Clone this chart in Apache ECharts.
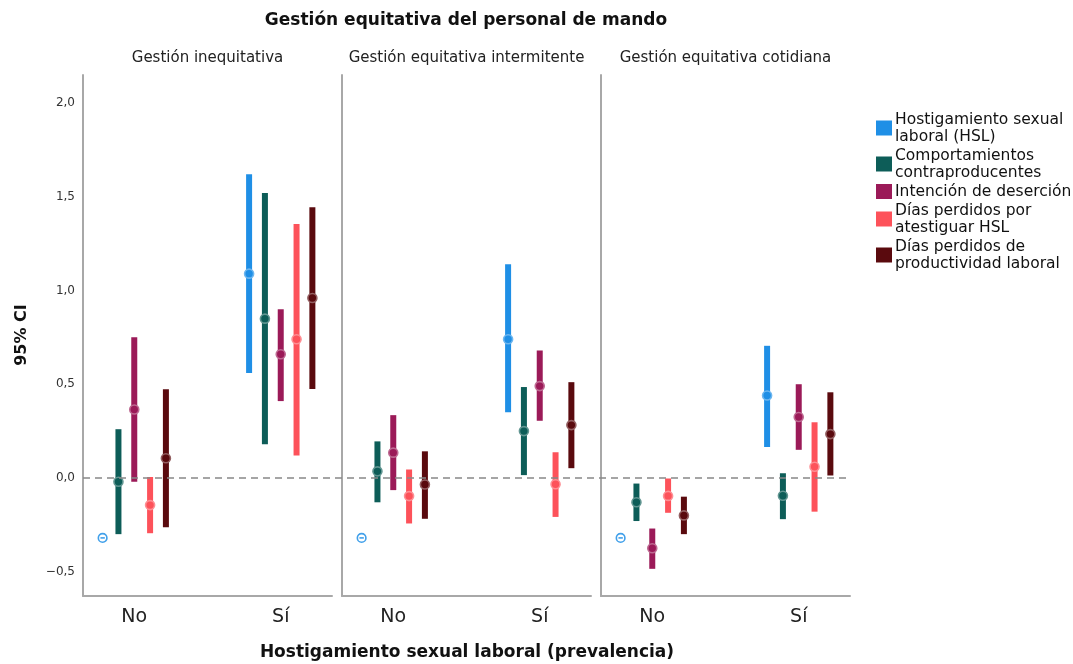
<!DOCTYPE html>
<html>
<head>
<meta charset="utf-8">
<script src="https://cdn.jsdelivr.net/npm/echarts@6/dist/echarts.min.js"></script>
<style>
html,body{margin:0;padding:0;background:#fff;}
#chart{width:1073px;height:664px;}
</style>
</head>
<body>
<div id="chart"></div>
<script>
// ---- Data ----
const mainTitle = 'Gestión equitativa del personal de mando';
const groups = ['Gestión inequitativa', 'Gestión equitativa intermitente', 'Gestión equitativa cotidiana'];
const cats = ['No', 'Sí'];
const seriesNames = [
  'Hostigamiento sexual\nlaboral (HSL)',
  'Comportamientos\ncontraproducentes',
  'Intención de deserción',
  'Días perdidos por\natestiguar HSL',
  'Días perdidos de\nproductividad laboral'
];
const yTicks = [-0.5, 0, 0.5, 1.0, 1.5, 2.0];
const xTitle = 'Hostigamiento sexual laboral (prevalencia)';
const yTitle = '95% CI';

// per series: [panel][category] -> mean, lower, upper (null = no interval)
const hslMean = [[-0.32, 1.09], [-0.32, 0.74], [-0.32, 0.44]];
const hslLow  = [[null, 0.56], [null, 0.35], [null, 0.165]];
const hslHigh = [[null, 1.62], [null, 1.14], [null, 0.705]];

const compMean = [[-0.02, 0.85], [0.035, 0.25], [-0.13, -0.095]];
const compLow  = [[-0.30, 0.18], [-0.13, 0.015], [-0.23, -0.22]];
const compHigh = [[0.26, 1.52], [0.195, 0.485], [-0.03, 0.025]];

const desMean = [[0.365, 0.66], [0.135, 0.49], [-0.375, 0.325]];
const desLow  = [[-0.02, 0.41], [-0.065, 0.305], [-0.485, 0.15]];
const desHigh = [[0.75, 0.90], [0.335, 0.68], [-0.27, 0.50]];

const atesMean = [[-0.145, 0.74], [-0.097, -0.034], [-0.096, 0.06]];
const atesLow  = [[-0.295, 0.12], [-0.243, -0.208], [-0.186, -0.18]];
const atesHigh = [[0.005, 1.355], [0.045, 0.137], [-0.003, 0.297]];

const prodMean = [[0.105, 0.96], [-0.035, 0.282], [-0.20, 0.234]];
const prodLow  = [[-0.263, 0.474], [-0.218, 0.052], [-0.30, 0.013]];
const prodHigh = [[0.473, 1.444], [0.142, 0.511], [-0.10, 0.457]];

const means = [hslMean, compMean, desMean, atesMean, prodMean];
const lows  = [hslLow, compLow, desLow, atesLow, prodLow];
const highs = [hslHigh, compHigh, desHigh, atesHigh, prodHigh];

// ---- Style ----
const colors = ['#1f8fe6', '#0d5d58', '#9b1a58', '#fd525a', '#5a0a0e'];
const offsets = [-0.216, -0.108, 0, 0.108, 0.216];
const FONT = 'DejaVu Sans';
const axisGray = '#a8a8a8';

function lighten(hex, t) {
  const n = parseInt(hex.slice(1), 16);
  const r = (n >> 16) & 255, g = (n >> 8) & 255, b = n & 255;
  const f = c => Math.round(c + (255 - c) * t);
  return 'rgb(' + f(r) + ',' + f(g) + ',' + f(b) + ')';
}

function makeRender(j) {
  return function (params, api) {
    const x = api.value(0) + offsets[j];
    const m = api.value(1), lo = api.value(2), hi = api.value(3);
    const pm = api.coord([x, m]);
    const col = colors[j];
    const children = [];
    const hasCI = !isNaN(lo) && !isNaN(hi) && lo !== null && hi !== null;
    if (hasCI) {
      const p1 = api.coord([x, lo]);
      const p2 = api.coord([x, hi]);
      children.push({type: 'line', shape: {x1: p1[0], y1: p1[1], x2: p2[0], y2: p2[1]},
        style: {stroke: col, lineWidth: 6, lineCap: 'butt'}});
      children.push({type: 'circle', shape: {cx: pm[0], cy: pm[1], r: 4.5},
        style: {fill: col, stroke: lighten(col, 0.35), lineWidth: 1.6}});
    } else {
      children.push({type: 'circle', shape: {cx: pm[0], cy: pm[1], r: 4.3},
        style: {fill: '#fff', stroke: lighten(col, 0.15), lineWidth: 1.6}});
      children.push({type: 'line', shape: {x1: pm[0] - 2.2, y1: pm[1], x2: pm[0] + 2.2, y2: pm[1]},
        style: {stroke: lighten(col, 0.15), lineWidth: 1.6}});
    }
    return {type: 'group', children: children};
  };
}

const panelLeft = [83, 342, 601];
const panelWidth = 249;
const gridTop = 75, gridHeight = 521;
const yMin = -0.63, yMax = 2.15;

const grids = [], xAxes = [], yAxes = [], series = [], titles = [];
titles.push({text: mainTitle, left: 466, top: 12, textAlign: 'center', padding: 0,
  textStyle: {fontFamily: FONT, fontSize: 17, fontWeight: 'bold', color: '#111'}});
titles.push({text: xTitle, left: 467, top: 644, textAlign: 'center', padding: 0,
  textStyle: {fontFamily: FONT, fontSize: 17, fontWeight: 'bold', color: '#111'}});

groups.forEach((g, i) => {
  grids.push({left: panelLeft[i], top: gridTop, width: panelWidth, height: gridHeight, containLabel: false});
  titles.push({text: g, left: panelLeft[i] + panelWidth / 2, top: 51, textAlign: 'center', padding: 0,
    textStyle: {fontFamily: FONT, fontSize: 15, fontWeight: 'normal', color: '#222'}});
  xAxes.push({
    type: 'value', gridIndex: i, min: -0.35, max: 1.35,
    axisLine: {show: true, onZero: false, lineStyle: {color: axisGray, width: 2}},
    axisTick: {show: false},
    splitLine: {show: false},
    axisLabel: {customValues: [0, 1], formatter: v => cats[Math.round(v)], margin: 12,
      fontFamily: FONT, fontSize: 19, color: '#222'}
  });
  yAxes.push({
    type: 'value', gridIndex: i, min: yMin, max: yMax,
    axisLine: {show: true, onZero: false, lineStyle: {color: axisGray, width: 2}},
    axisTick: {show: false},
    splitLine: {show: false},
    axisLabel: {show: i === 0, customValues: yTicks, margin: 8,
      formatter: v => (v < 0 ? '\u2212' : '') + Math.abs(v).toFixed(1).replace('.', ','),
      fontFamily: FONT, fontSize: 12, color: '#333'}
  });
  seriesNames.forEach((name, j) => {
    const data = cats.map((c, k) => [k, means[j][i][k], lows[j][i][k], highs[j][i][k]]);
    series.push({
      type: 'custom', name: name, xAxisIndex: i, yAxisIndex: i,
      itemStyle: {color: colors[j]},
      encode: {x: 0, y: [1, 2, 3]},
      renderItem: makeRender(j),
      data: data, z: 3
    });
  });
});

// overlay grid for the dashed zero line across all panels
grids.push({left: panelLeft[0], top: gridTop, width: panelLeft[2] + panelWidth - panelLeft[0], height: gridHeight});
xAxes.push({type: 'value', gridIndex: 3, min: 0, max: 1, show: false});
yAxes.push({type: 'value', gridIndex: 3, min: yMin, max: yMax, show: false});
series.push({
  type: 'line', name: 'ref', xAxisIndex: 3, yAxisIndex: 3, data: [], z: 1,
  markLine: {silent: true, symbol: 'none', label: {show: false},
    lineStyle: {color: '#888', width: 1.5, type: [7, 5]},
    data: [{yAxis: 0}]}
});

const chart = echarts.init(document.getElementById('chart'), null, {renderer: 'canvas'});
chart.setOption({
  animation: false,
  color: colors,
  title: titles,
  grid: grids,
  xAxis: xAxes,
  yAxis: yAxes,
  legend: {
    data: seriesNames, orient: 'vertical', left: 876, top: 111,
    icon: 'rect', itemWidth: 16, itemHeight: 15, itemGap: 2, padding: 0,
    textStyle: {fontFamily: FONT, fontSize: 15.5, color: '#111', lineHeight: 17, padding: [0, 0, 0, -2]}
  },
  graphic: [{
    type: 'text', x: 22, y: 335, rotation: Math.PI / 2,
    style: {text: yTitle, fontFamily: FONT, fontSize: 16, fontWeight: 'bold', fill: '#111',
      textAlign: 'center', textVerticalAlign: 'middle'}
  }],
  series: series
});
</script>
</body>
</html>
